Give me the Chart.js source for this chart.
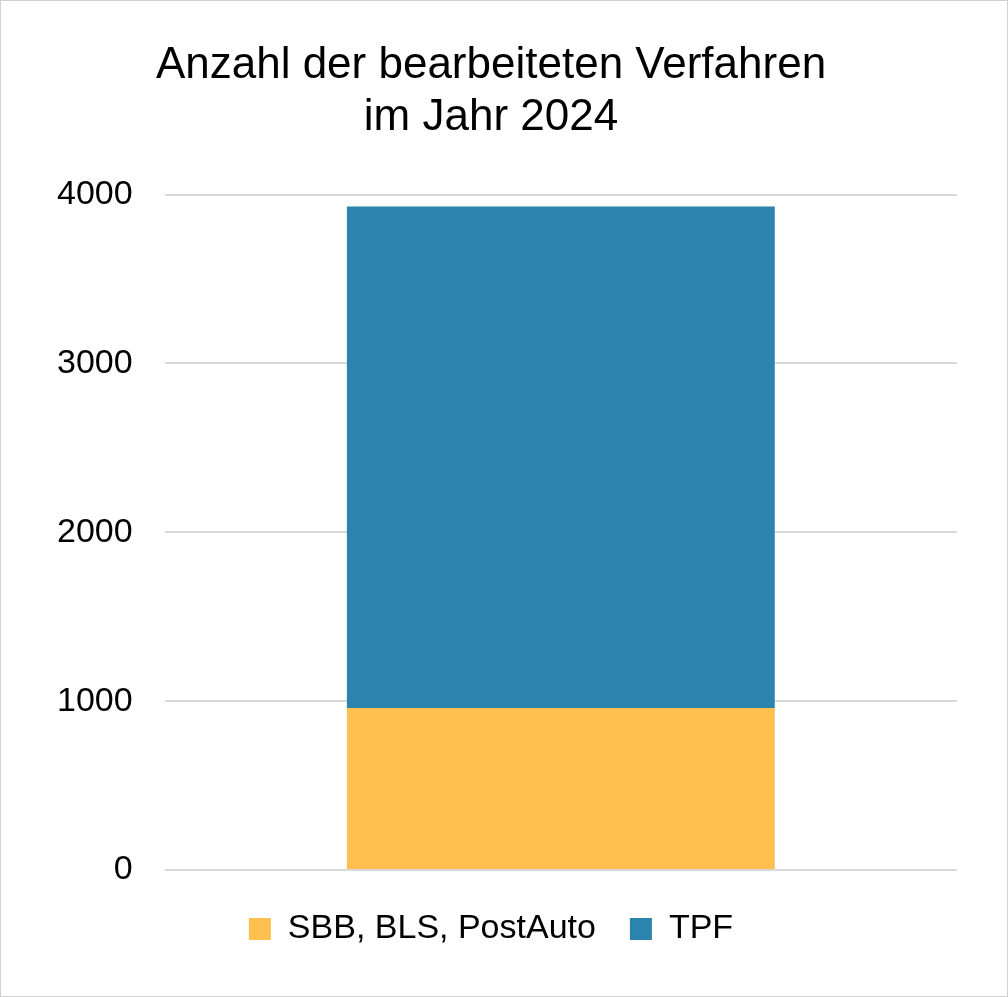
<!DOCTYPE html>
<html><head><meta charset="utf-8">
<script src="https://cdn.jsdelivr.net/npm/chart.js@4"></script>
<style>html,body{margin:0;padding:0;background:#fff}
#wrap{position:absolute;left:0;top:0;width:1006px;height:995px;border:1px solid #d0d0d0}
</style></head><body>
<div id="wrap"><canvas id="c"></canvas></div>
<script>
const categories = ["2024"];
const sbbValues = [960];
const tpfValues = [2970];
const seriesNames = ["SBB, BLS, PostAuto", "TPF"];
const tickValues = [0, 1000, 2000, 3000, 4000];

new Chart(document.getElementById('c'), {
  type: 'bar',
  data: { labels: categories, datasets: [
    { label: seriesNames[0], data: sbbValues, backgroundColor: '#FFC04F' },
    { label: seriesNames[1], data: tpfValues, backgroundColor: '#2C84AE' }
  ]},
  options: {
    responsive: true, maintainAspectRatio: false, animation: false,
    layout: { padding: { left: 24, right: 50, top: 38, bottom: 40 } },
    datasets: { bar: { categoryPercentage: 1, barPercentage: 0.54 } },
    plugins: {
      title: { display: true, text: ['Anzahl der bearbeiteten Verfahren', 'im Jahr 2024'],
        color: '#000', font: { family: 'Liberation Sans', size: 44, weight: 'normal' }, padding: { bottom: 50 }, lineHeight: 1.3 },
      legend: { position: 'bottom', labels: { color: '#000', boxWidth: 22, boxHeight: 22, padding: 34,
        font: { family: 'Liberation Sans', size: 34 } } },
      tooltip: { enabled: false }
    },
    scales: {
      x: { stacked: true, ticks: { display: false }, grid: { display: false }, border: { display: false } },
      y: { stacked: true, min: 0, max: 4000, afterBuildTicks: a => { a.ticks = tickValues.map(v => ({ value: v })); },
        ticks: { color: '#000', padding: 32, font: { family: 'Liberation Sans', size: 34 }, callback: v => String(v) },
        grid: { color: '#d9d9d9', lineWidth: 2, drawTicks: false }, border: { display: false } }
    }
  }
});
</script></body></html>
